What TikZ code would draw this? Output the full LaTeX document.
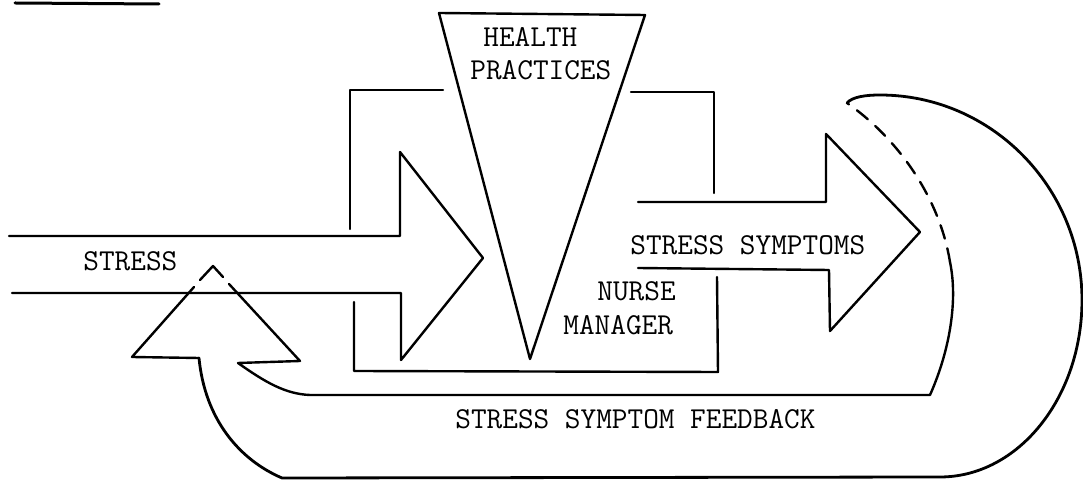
\documentclass[tikz,border=0pt]{standalone}
\usepackage{fontspec}
\begin{document}
\begin{tikzpicture}[x=0.5pt,y=-0.5pt,
  ln/.style={line width=1.2pt,line join=round,line cap=round},
  hid/.style={ln,dash pattern=on 7pt off 5pt},
  lbl/.style={inner sep=0pt,anchor=west,font=\ttfamily\fontsize{15.2}{18}\selectfont}]
\useasboundingbox (0,0) rectangle (1083,480);

% title underline (cropped title)
\coordinate (ulA) at (15,3);
\coordinate (ulB) at (159,4);
\draw[ln,line width=1.5pt] (ulA) -- (ulB);

% ---- stress arrow (left) ----
\coordinate (s1) at (9,236);
\coordinate (s2) at (400,236);
\coordinate (s3) at (400,152);
\coordinate (stip) at (483,258);
\coordinate (s5) at (401,360);
\coordinate (s6) at (401,293);
\coordinate (s7) at (12,293);
\draw[ln] (s1) -- (s2) -- (s3) -- (stip) -- (s5) -- (s6) -- (s7);

% ---- nurse manager bracket ----
\coordinate (b1) at (350,229);
\coordinate (b2) at (350,90);
\coordinate (b3) at (443,90);
\draw[ln] (b1) -- (b2) -- (b3);
\coordinate (b4) at (354,302);
\coordinate (b5) at (354,371);
\coordinate (b6) at (718,372);
\coordinate (b7) at (717,277);
\draw[ln] (b4) -- (b5) -- (b6) -- (b7);
\coordinate (b8) at (631,92);
\coordinate (b9) at (714,92);
\coordinate (b10) at (714,193);
\draw[ln] (b8) -- (b9) -- (b10);

% ---- health practices triangle ----
\coordinate (t1) at (439,13);
\coordinate (t2) at (645,15);
\coordinate (t3) at (530,359);
\draw[ln] (t1) -- (t2) -- (t3) -- cycle;

% ---- stress symptoms arrow ----
\coordinate (y1) at (638,202);
\coordinate (y2) at (826,202);
\coordinate (y3) at (826,134);
\coordinate (ytip) at (920,232);
\coordinate (y5) at (830,331);
\coordinate (y6) at (829,270);
\coordinate (y7) at (638,268);
\draw[ln] (y1) -- (y2) -- (y3) -- (ytip) -- (y5) -- (y6) -- (y7);

% ---- feedback loop ----
\coordinate (fstart) at (847,103);
\coordinate (ftop) at (880,95);
\coordinate (fright) at (1082,300);
\coordinate (fbot) at (940,477);
\coordinate (fbl) at (282,478);
\coordinate (fstem) at (199,358);
\coordinate (fl) at (132,357);
\coordinate (fla) at (194,287);
\coordinate (flb) at (200,280);
\coordinate (ftip) at (213,266);
\coordinate (fra) at (223,277);
\coordinate (frb) at (229,284);
\coordinate (fr) at (300,361);
\coordinate (fin) at (238,363);
\coordinate (fil) at (310,395);
\coordinate (fir) at (930,395);
\coordinate (fdash) at (950,262);

\draw[ln,line width=1.4pt] (fstart) .. controls (852,97) and (865,95) .. (ftop)
  .. controls (991,95) and (1082,187) .. (fright)
  .. controls (1082,398) and (1018,477) .. (fbot)
  -- (fbl) .. controls (240,460) and (205,420) .. (fstem);
\draw[ln] (fstem) -- (fl) -- (fla);
\draw[ln] (flb) -- (ftip) -- (fra);
\draw[ln] (frb) -- (fr) -- (fin)
  .. controls (265,382) and (285,394) .. (fil) -- (fir)
  .. controls (950,350) and (958,300) .. (fdash);
\draw[hid] (fdash) .. controls (940,200) and (900,140) .. (fstart);

% ---- labels ----
\node[lbl] (health) at (483,37) {HEALTH};
\node[lbl] (practices) at (470,70) {PRACTICES};
\node[lbl] (stress) at (83,261) {STRESS};
\node[lbl] (symptoms) at (630,245) {STRESS SYMPTOMS};
\node[lbl] (nurse) at (597,291) {NURSE};
\node[lbl] (manager) at (563,325) {MANAGER};
\node[lbl] (feedback) at (455,419) {STRESS SYMPTOM FEEDBACK};
\end{tikzpicture}
\end{document}
